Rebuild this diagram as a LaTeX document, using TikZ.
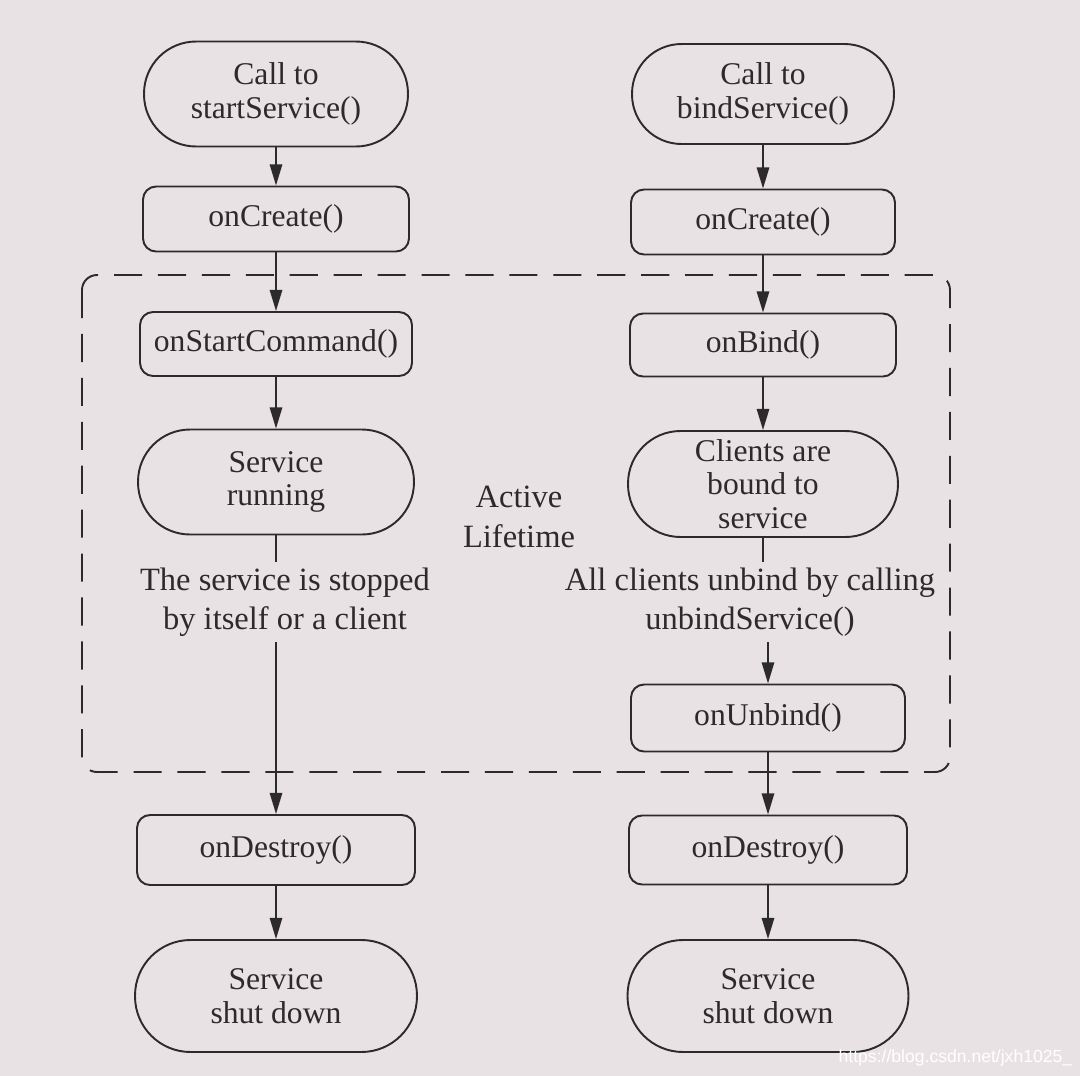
\documentclass[tikz,border=0pt]{standalone}
\usepackage{fontspec}
\setmainfont{Liberation Serif}
\newfontfamily\wmfont{Liberation Sans}
\usetikzlibrary{arrows.meta}
\definecolor{bg}{RGB}{233,226,229}
\definecolor{ink}{RGB}{45,42,44}
\tikzset{
  base/.style={draw=ink, line width=1.1pt, align=center, text=ink, inner sep=2pt,
    font=\fontsize{18}{19}\selectfont},
  stad/.style={base, minimum height=2.1cm, rounded corners=1.04cm},
  bigstad/.style={base, minimum height=2.24cm, rounded corners=1.11cm},
  box/.style={base, minimum height=1.3cm, rounded corners=0.26cm},
  lbl/.style={align=center, text=ink, inner sep=3pt, font=\fontsize{18.5}{22.5}\selectfont},
  conn/.style={draw=ink, line width=1.1pt},
  arr/.style={conn, -{Stealth[length=12pt,width=7pt,inset=0pt]}},
  lifetime/.style={draw=ink, line width=1.1pt, dash pattern=on 16pt off 9pt, rounded corners=0.3cm}
}
\begin{document}
\begin{tikzpicture}[x=0.02cm,y=-0.02cm]
\fill[bg] (0,0) rectangle (1080,1076);
\useasboundingbox (0,0) rectangle (1080,1076);

% dashed active-lifetime region
\draw[lifetime] (82,275) rectangle (950,772);

% left column
\node[stad, minimum width=5.28cm] (ls) at (276,94) {Call to\\startService()};
\node[box, minimum width=5.32cm] (lc) at (276,219) {onCreate()};
\node[box, minimum width=5.44cm, minimum height=1.28cm] (lsc) at (276,344) {onStartCommand()};
\node[stad, minimum width=5.52cm] (lr) at (276,482) {Service\\running};
\node[lbl] (ll) at (285,602) {The service is stopped\\by itself or a client};
\node[box, minimum width=5.56cm, minimum height=1.4cm] (ld) at (276,850) {onDestroy()};
\node[bigstad, minimum width=5.64cm] (lsd) at (276,996) {Service\\shut down};

% right column
\node[stad, minimum width=5.24cm, minimum height=2.0cm, rounded corners=0.99cm] (rs) at (763,94) {Call to\\bindService()};
\node[box, minimum width=5.28cm] (rc) at (763,222) {onCreate()};
\node[box, minimum width=5.32cm, minimum height=1.26cm] (rb) at (763,345) {onBind()};
\node[stad, minimum width=5.4cm, minimum height=2.12cm, rounded corners=1.05cm] (rcl) at (763,484) {Clients are\\bound to\\service};
\node[lbl] (rl) at (750,602) {All clients unbind by calling\\unbindService()};
\node[box, minimum width=5.48cm, minimum height=1.34cm] (ru) at (768,718) {onUnbind()};
\node[box, minimum width=5.56cm, minimum height=1.38cm] (rd) at (768,850) {onDestroy()};
\node[bigstad, minimum width=5.62cm] (rsd) at (768,996) {Service\\shut down};

\node[lbl] (al) at (519,517) {Active\\Lifetime};

% left connectors
\draw[arr] (ls) -- (lc);
\draw[arr] (lc) -- (lsc);
\draw[arr] (lsc) -- (lr);
\draw[conn] (lr.south) -- (lr.south |- ll.north);
\draw[arr] (lr.south |- ll.south) -- (ld.north);
\draw[arr] (ld) -- (lsd);

% right connectors
\draw[arr] (rs) -- (rc);
\draw[arr] (rc) -- (rb);
\draw[arr] (rb) -- (rcl);
\draw[conn] (rcl.south) -- (rcl.south |- rl.north);
\draw[arr] (ru.north |- rl.south) -- (ru.north);
\draw[arr] (ru) -- (rd);
\draw[arr] (rd) -- (rsd);

% watermark
\node[anchor=south east, text=white, inner sep=2pt, font=\wmfont\fontsize{10}{10}\selectfont] (wm) at (1076,1070) {https://blog.csdn.net/jxh1025\_};
\end{tikzpicture}
\end{document}
